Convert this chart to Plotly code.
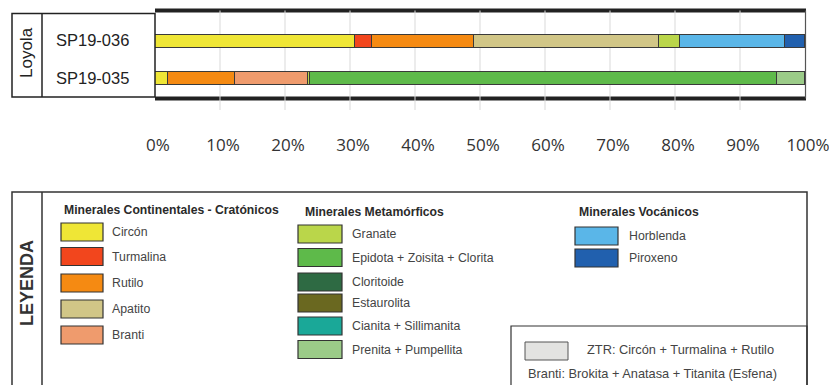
import plotly.graph_objects as go

W, H = 829, 385

# Samples (bottom to top on the y axis)
samples = ["SP19-035", "SP19-036"]

# Minerals in stacking / legend order
minerals = ["Circón", "Turmalina", "Rutilo", "Apatito", "Branti",
            "Granate", "Epidota + Zoisita + Clorita", "Cloritoide", "Estaurolita",
            "Cianita + Sillimanita", "Prenita + Pumpellita",
            "Horblenda", "Piroxeno"]
colors = ["#EFE636", "#F2461D", "#F58A12", "#D1C687", "#EF9B6D",
          "#BAD64A", "#5EBA4A", "#2E6A43", "#6A6820",
          "#1AA898", "#9BCB88",
          "#5AB6E8", "#2160AE"]

# Percentages per mineral, one list per sample
sp19_035 = [2.0, 0, 10.3, 0, 11.2, 0.4, 71.8, 0, 0, 0, 4.3, 0, 0]
sp19_036 = [30.8, 2.6, 15.6, 28.6, 0, 3.1, 0, 0, 0, 0, 0, 16.2, 3.1]

tick_vals = [0, 10, 20, 30, 40, 50, 60, 70, 80, 90, 100]
tick_text = ["0%", "10%", "20%", "30%", "40%", "50%", "60%", "70%", "80%", "90%", "100%"]

# Legend groups: (title, minerals)
groups = [
    ("Minerales Continentales - Cratónicos", ["Circón", "Turmalina", "Rutilo", "Apatito", "Branti"]),
    ("Minerales Metamórficos", ["Granate", "Epidota + Zoisita + Clorita", "Cloritoide",
                                "Estaurolita", "Cianita + Sillimanita", "Prenita + Pumpellita"]),
    ("Minerales Vocánicos", ["Horblenda", "Piroxeno"]),
]
ztr_color = "#E3E3E1"
ztr_text = "ZTR: Circón + Turmalina + Rutilo"
branti_text = "Branti: Brokita + Anatasa + Titanita (Esfena)"

FONT = "Arial, Liberation Sans, sans-serif"


def px(x):
    return x / W


def py(y):
    return 1 - y / H


fig = go.Figure()
for i, name in enumerate(minerals):
    vals = [sp19_035[i], sp19_036[i]]
    fig.add_trace(go.Bar(
        y=samples, x=[v if v > 0 else None for v in vals], orientation="h",
        name=name, width=0.33,
        marker=dict(color=colors[i], line=dict(color="#3a3a3a", width=1)),
        showlegend=False, hoverinfo="x+name",
    ))

PLOT_L, PLOT_R, PLOT_T, PLOT_B = 155, 805, 10.5, 98.5
# categories 0 and 1 sit at pixel rows 78 and 41
unit = 78 - 41
y_lo = 0 - (PLOT_B - 78) / unit
y_hi = 1 + (41 - PLOT_T) / unit

shapes = []
annotations = []

# thick frame bars top and bottom of the plot
for yy in (PLOT_T, PLOT_B):
    shapes.append(dict(type="line", xref="paper", yref="paper", layer="below",
                       x0=px(PLOT_L), x1=px(PLOT_R + 1), y0=py(yy), y1=py(yy),
                       line=dict(color="#222222", width=4)))
# vertical grid lines, running a little below the plot
for v in tick_vals[1:-1]:
    shapes.append(dict(type="line", xref="x", yref="paper", layer="below",
                       x0=v, x1=v, y0=py(PLOT_T), y1=py(110),
                       line=dict(color="#D9D9D9", width=1)))
# right border
shapes.append(dict(type="line", xref="paper", yref="paper", layer="below",
                   x0=px(PLOT_R + 0.5), x1=px(PLOT_R + 0.5), y0=py(PLOT_T), y1=py(PLOT_B),
                   line=dict(color="#555555", width=1.2)))

# left label box
shapes.append(dict(type="rect", xref="paper", yref="paper",
                   x0=px(12), x1=px(155), y0=py(13.5), y1=py(97),
                   line=dict(color="#222222", width=1.5)))
shapes.append(dict(type="line", xref="paper", yref="paper",
                   x0=px(42), x1=px(42), y0=py(13.5), y1=py(97),
                   line=dict(color="#222222", width=1.5)))
annotations.append(dict(xref="paper", yref="paper", x=px(27), y=py(53), text="Loyola",
                        textangle=-90, showarrow=False, xanchor="center", yanchor="middle",
                        font=dict(family=FONT, size=17, color="#222222")))
for s, yc in zip(samples, [78, 40]):
    annotations.append(dict(xref="paper", yref="paper", x=px(54), y=py(yc), text=s,
                            showarrow=False, xanchor="left", yanchor="middle",
                            font=dict(family=FONT, size=16.5, color="#222222")))

# legend frame
shapes.append(dict(type="rect", xref="paper", yref="paper",
                   x0=px(12), x1=px(807), y0=py(192), y1=py(392),
                   line=dict(color="#333333", width=1.5)))
shapes.append(dict(type="line", xref="paper", yref="paper",
                   x0=px(42), x1=px(42), y0=py(192), y1=py(392),
                   line=dict(color="#333333", width=1.5)))
annotations.append(dict(xref="paper", yref="paper", x=px(27), y=py(283), text="<b>LEYENDA</b>",
                        textangle=-90, showarrow=False, xanchor="center", yanchor="middle",
                        font=dict(family=FONT, size=18, color="#333333")))

col_x = [(62, 61, 103, 110), (303, 298, 342, 350), (577, 575, 618, 627)]
row_y = [
    [232, 256.5, 283, 309, 335],
    [234, 257.5, 282, 303, 326, 349.5],
    [236, 258],
]
title_y = [210, 212, 212]
for g, (title, names) in enumerate(groups):
    tx, sx0, sx1, lx = col_x[g]
    annotations.append(dict(xref="paper", yref="paper", x=px(tx), y=py(title_y[g]),
                            text=f"<b>{title}</b>", showarrow=False,
                            xanchor="left", yanchor="middle",
                            font=dict(family=FONT, size=12.2, color="#2a2a2a")))
    for k, name in enumerate(names):
        yc = row_y[g][k]
        shapes.append(dict(type="rect", xref="paper", yref="paper",
                           x0=px(sx0), x1=px(sx1), y0=py(yc - 9), y1=py(yc + 9),
                           fillcolor=colors[minerals.index(name)],
                           line=dict(color="#333333", width=1.2)))
        annotations.append(dict(xref="paper", yref="paper", x=px(lx), y=py(yc), text=name,
                                showarrow=False, xanchor="left", yanchor="middle",
                                font=dict(family=FONT, size=12.3, color="#444444")))

# ZTR / Branti note box
shapes.append(dict(type="rect", xref="paper", yref="paper",
                   x0=px(511), x1=px(807), y0=py(326), y1=py(392),
                   line=dict(color="#333333", width=1.2)))
shapes.append(dict(type="rect", xref="paper", yref="paper",
                   x0=px(525), x1=px(568), y0=py(342), y1=py(360),
                   fillcolor=ztr_color, line=dict(color="#555555", width=1)))
annotations.append(dict(xref="paper", yref="paper", x=px(585), y=py(349), text=ztr_text,
                        showarrow=False, xanchor="left", yanchor="middle",
                        font=dict(family=FONT, size=12.8, color="#444444")))
annotations.append(dict(xref="paper", yref="paper", x=px(526), y=py(373), text=branti_text,
                        showarrow=False, xanchor="left", yanchor="middle",
                        font=dict(family=FONT, size=12.8, color="#444444")))

fig.update_layout(
    template="none",
    width=W, height=H,
    margin=dict(l=0, r=0, t=0, b=0, pad=0, autoexpand=False),
    paper_bgcolor="white", plot_bgcolor="rgba(0,0,0,0)",
    barmode="stack", bargap=0,
    xaxis=dict(domain=[px(PLOT_L), px(PLOT_R)], range=[0, 100], automargin=False,
               tickvals=tick_vals, ticktext=tick_text, showgrid=False, zeroline=False,
               showline=False, ticks="", ticklabelstandoff=34, ticklabelshift=3,
               ticklabeloverflow="allow",
               tickfont=dict(family="Open Sans, sans-serif", size=17, color="#333333"),
               fixedrange=True),
    yaxis=dict(domain=[py(PLOT_B), py(PLOT_T)], range=[y_lo, y_hi], automargin=False,
               type="category", categoryorder="array", categoryarray=samples,
               showticklabels=False, showgrid=False, zeroline=False, showline=False,
               ticks="", fixedrange=True),
    shapes=shapes, annotations=annotations,
    showlegend=False,
)

fig.write_html("out.html", config={"displayModeBar": False})
